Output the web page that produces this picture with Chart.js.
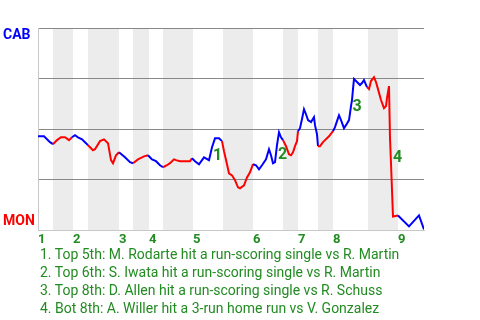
<!DOCTYPE html>
<html>
<head>
<meta charset="utf-8">
<script src="https://cdn.jsdelivr.net/npm/chart.js@4"></script>
<style>
  body { margin: 0; background: #fff; width: 480px; height: 320px; overflow: hidden; position: relative; font-family: Roboto, sans-serif; }
  #wpChart { position: absolute; left: 0; top: 0; }
  #notes { position: absolute; left: 40px; top: 245px; color: #228b22; font-size: 14px; line-height: 18px; white-space: nowrap; }
</style>
</head>
<body>
<canvas id="wpChart" width="480" height="250"></canvas>
<div id="notes"></div>
<script>
// innings and where each half-inning starts (in game progress units)
var innings = ['1', '2', '3', '4', '5', '6', '7', '8', '9'];
var halfInningStarts = [0, 15, 35, 50, 81, 95, 111, 125, 155, 185, 215, 245, 260, 280, 295, 330, 360];
var gameEnd = 386;

// win probability for CAB (%)
var progress = [0, 6, 12, 15, 19, 23, 27, 31, 34, 37,
    40, 44, 48, 50, 55, 57, 62, 66, 70, 73,
    75, 78, 81, 87, 92, 95, 100, 106, 110, 114,
    118, 122, 125, 129, 132, 136, 138, 142, 152, 154,
    157, 161, 166, 171, 174, 177, 181, 184, 186, 189,
    191, 194, 197, 200, 202, 206, 209, 212, 215, 218,
    221, 224, 228, 231, 233, 235, 237, 239, 241, 243,
    245, 248, 251, 253, 255, 257, 259, 260, 262, 264,
    266, 268, 270, 273, 276, 277, 279, 280, 282, 285,
    287, 291, 295, 297, 299, 301, 303, 306, 308, 311,
    313, 314, 315, 316, 319, 322, 324, 326, 329, 331,
    333, 336, 338, 340, 343, 346, 348, 349, 351, 352,
    353, 354, 355, 360, 371, 381, 386];
var cabWinPct = [46.5, 46.5, 43.6, 42.6, 44.6, 46.0, 46.0, 44.6, 46.0, 47.0,
    46.0, 45.0, 43.1, 42.1, 39.6, 40.1, 44.1, 45.0, 43.1, 34.7,
    33.2, 37.1, 38.6, 36.1, 33.7, 33.2, 35.1, 36.6, 37.1, 35.1,
    34.2, 32.2, 31.2, 32.2, 33.2, 35.1, 34.7, 34.2, 34.2, 35.6,
    34.2, 32.7, 36.1, 34.7, 41.1, 45.5, 45.5, 44.1, 39.1, 32.7,
    28.2, 27.2, 24.8, 21.3, 20.8, 22.3, 26.2, 28.7, 32.7, 32.2,
    30.2, 32.2, 35.1, 40.1, 37.1, 33.2, 33.7, 42.1, 48.5, 46.0,
    44.6, 41.6, 37.6, 37.1, 38.6, 41.6, 44.1, 49.0, 50.5, 55.0,
    59.9, 57.4, 54.5, 53.5, 55.9, 52.0, 47.5, 41.6, 41.6, 43.6,
    44.6, 46.5, 49.0, 51.0, 54.0, 56.9, 54.5, 50.5, 52.0, 54.5,
    61.4, 64.4, 69.8, 74.8, 73.3, 71.8, 72.8, 74.3, 70.8, 69.8,
    73.8, 75.7, 73.3, 69.8, 64.4, 60.4, 61.4, 65.3, 71.3, 45.5,
    33.2, 19.8, 6.9, 7.4, 2.0, 7.4, 0.5];

// key plays
var eventNums = ['1', '2', '3', '4'];
var eventX = [179.5, 244.5, 319, 359.5];
var eventY = [36.6, 37.4, 61.1, 35.9];
var eventNotes = [
    '1. Top 5th: M. Rodarte hit a run-scoring single vs R. Martin',
    '2. Top 6th: S. Iwata hit a run-scoring single vs R. Martin',
    '3. Top 8th: D. Allen hit a run-scoring single vs R. Schuss',
    '4. Bot 8th: A. Willer hit a 3-run home run vs V. Gonzalez'
];

var green = '#228b22';

document.getElementById('notes').innerHTML = eventNotes.map(function(n) {
    return '<div>' + n + '</div>';
}).join('');

function halfEnd(i) {
    return i + 1 < halfInningStarts.length ? halfInningStarts[i + 1] : gameEnd;
}

function isBottomHalf(v) {
    for (var i = 1; i < halfInningStarts.length; i += 2) {
        if (v >= halfInningStarts[i] && v < halfEnd(i)) return true;
    }
    return false;
}

// grey bands behind the bottom halves
var bandsPlugin = {
    id: 'bands',
    beforeDraw: function(chart) {
        var x = chart.scales.x, a = chart.chartArea, ctx = chart.ctx;
        ctx.save();
        ctx.fillStyle = '#ececec';
        for (var i = 1; i < halfInningStarts.length; i += 2) {
            var x0 = x.getPixelForValue(halfInningStarts[i]);
            var x1 = x.getPixelForValue(halfEnd(i));
            ctx.fillRect(x0, a.top, x1 - x0, a.bottom - a.top);
        }
        ctx.restore();
    }
};

// team names and play numbers
var labelsPlugin = {
    id: 'labels',
    afterDatasetsDraw: function(chart) {
        var a = chart.chartArea, ctx = chart.ctx;
        ctx.save();
        ctx.font = 'bold 14px Roboto';
        ctx.textAlign = 'left';
        ctx.textBaseline = 'alphabetic';
        ctx.fillStyle = '#0000ff';
        ctx.fillText('CAB', 3, a.top + 11);
        ctx.fillStyle = '#ff0000';
        ctx.fillText('MON', 3, a.bottom - 5);

        ctx.font = 'bold 16px Roboto';
        ctx.textAlign = 'center';
        ctx.textBaseline = 'middle';
        ctx.fillStyle = green;
        for (var i = 0; i < eventNums.length; i++) {
            ctx.fillText(eventNums[i], chart.scales.x.getPixelForValue(eventX[i]), chart.scales.y.getPixelForValue(eventY[i]));
        }
        ctx.restore();
    }
};

var points = progress.map(function(p, i) { return {x: p, y: cabWinPct[i]}; });

var chart = new Chart(document.getElementById('wpChart').getContext('2d'), {
    type: 'line',
    data: {
        datasets: [{
            data: points,
            borderWidth: 2,
            pointRadius: 0,
            tension: 0,
            borderColor: '#0000ff',
            segment: {
                borderColor: function(ctx) {
                    var mid = (ctx.p0.parsed.x + ctx.p1.parsed.x) / 2;
                    return isBottomHalf(mid) ? '#ff0000' : '#0000ff';
                }
            }
        }]
    },
    options: {
        responsive: false,
        animation: false,
        layout: { padding: { top: 28, left: 38, right: 56, bottom: 0 } },
        plugins: { legend: { display: false }, tooltip: { enabled: false } },
        scales: {
            x: {
                type: 'linear',
                min: 0,
                max: gameEnd,
                afterBuildTicks: function(scale) {
                    scale.ticks = innings.map(function(_, i) { return {value: halfInningStarts[2 * i]}; });
                },
                ticks: {
                    autoSkip: false,
                    maxRotation: 0,
                    align: 'start',
                    padding: 2,
                    color: green,
                    font: { family: 'Roboto', weight: 'bold', size: 13 },
                    callback: function(v, i) { return innings[i]; }
                },
                grid: { display: false, drawTicks: false },
                border: { color: '#c8c8c8', width: 1 }
            },
            y: {
                min: 0,
                max: 100,
                ticks: { display: false, stepSize: 25 },
                grid: {
                    drawTicks: false,
                    color: function(ctx) {
                        return ctx.tick && ctx.tick.value === 0 ? 'rgba(0,0,0,0)' : '#888888';
                    }
                },
                border: { color: '#c8c8c8', width: 1 }
            }
        }
    },
    plugins: [bandsPlugin, labelsPlugin]
});
</script>
</body>
</html>
